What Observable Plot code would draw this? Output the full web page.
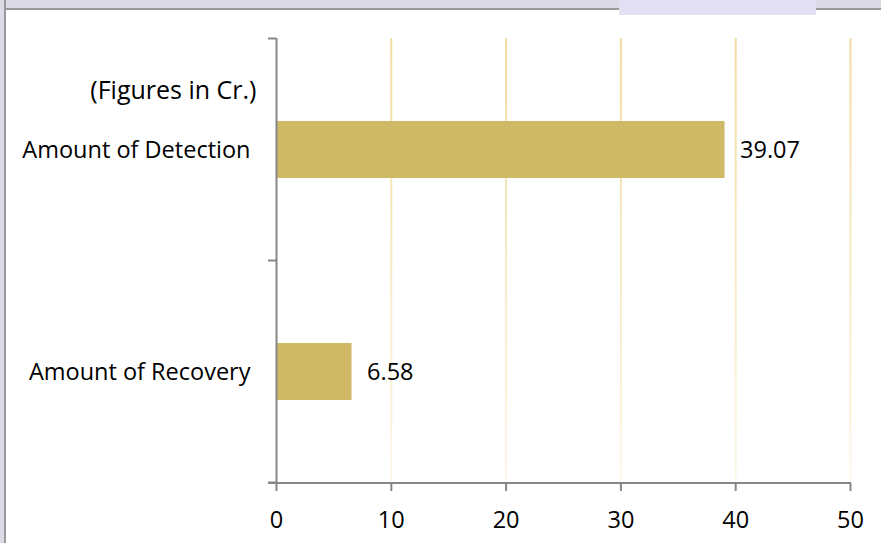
<!DOCTYPE html>
<html>
<head>
<meta charset="utf-8">
<script src="https://cdn.jsdelivr.net/npm/d3@7"></script>
<script src="https://cdn.jsdelivr.net/npm/@observablehq/plot@0.6"></script>
<style>
  html, body { margin: 0; padding: 0; background: #ffffff; }
  #wrap { position: relative; width: 881px; height: 543px; overflow: hidden; }
  .edge-top { position: absolute; left: 0; top: 0; width: 881px; height: 8px; background: #dcdae6; border-bottom: 2px solid #9a9a9a; }
  .edge-left { position: absolute; left: 0; top: 0; width: 4px; height: 543px; background: #dcdae6; border-right: 2px solid #9a9a9a; }
  .tab { position: absolute; left: 619px; top: 0; width: 197px; height: 15px; background: #e3e0f3; }
  #chart { position: absolute; left: 0; top: 0; }
</style>
</head>
<body>
<div id="wrap">
  <div id="chart"></div>
  <div class="edge-top"></div>
  <div class="edge-left"></div>
  <div class="tab"></div>
</div>
<script>
const categories = ["Amount of Detection", "Amount of Recovery"];
const values = [39.07, 6.58];
const xTicks = [0, 10, 20, 30, 40, 50];
const note = "(Figures in Cr.)";

const data = categories.map((c, i) => ({category: c, value: values[i]}));
const FONT = "'Open Sans', Lato, sans-serif";
const AXIS = "#878787";

// gradient defs for gridlines
function gridDefs(index, scales, values, dims) {
  const top = dims.marginTop, bottom = dims.height - dims.marginBottom;
  const defs = d3.create("svg:defs");
  const g = defs.append("linearGradient")
    .attr("id", "gridGrad")
    .attr("gradientUnits", "userSpaceOnUse")
    .attr("x1", 0).attr("x2", 0).attr("y1", top).attr("y2", bottom);
  g.append("stop").attr("offset", "0%").attr("stop-color", "#f1dc9f");
  g.append("stop").attr("offset", "100%").attr("stop-color", "#fdf7e8");
  return defs.node();
}

// Excel-style category axis: ticks on band boundaries + bottom axis line
function categoryAxis(index, scales, values, dims) {
  const y = scales.y, x = scales.x;
  const step = y.step();
  const bounds = categories.map(c => y(c) + y.bandwidth() / 2 - step / 2);
  bounds.push(y(categories[categories.length - 1]) + y.bandwidth() / 2 + step / 2);
  const x0 = x(0);
  const g = d3.create("svg:g").attr("stroke", AXIS).attr("stroke-width", 2);
  for (const b of bounds) {
    g.append("line").attr("x1", x0 - 8).attr("x2", x0).attr("y1", b).attr("y2", b);
  }
  const yb = dims.height - dims.marginBottom;
  g.append("line").attr("x1", x0 - 8).attr("x2", x(xTicks[xTicks.length - 1]) + 1).attr("y1", yb).attr("y2", yb);
  return g.node();
}

const chart = Plot.plot({
  width: 881,
  height: 543,
  marginLeft: 276,
  marginRight: 31,
  marginTop: 38,
  marginBottom: 60,
  style: {background: "transparent", fontFamily: FONT, color: "#000"},
  x: {domain: [0, 50], label: null},
  y: {domain: categories, paddingInner: 0.744, paddingOuter: 0.372, label: null},
  marks: [
    gridDefs,
    Plot.ruleX(xTicks.slice(1), {stroke: "url(#gridGrad)", strokeWidth: 2}),
    Plot.barX(data, {x: "value", y: "category", fill: "#cfb966"}),
    Plot.text(data, {x: "value", y: "category", text: d => d.value.toFixed(2), textAnchor: "start", dx: 15, fontSize: 23.5, fill: "#000"}),
    Plot.ruleX([0], {stroke: AXIS, strokeWidth: 2}),
    categoryAxis,
    Plot.axisX(xTicks, {tickSize: 8, tickPadding: 20, stroke: AXIS, strokeWidth: 2, fontSize: 23.5, fill: "#000", label: null}),
    Plot.axisY({tickSize: 0, tickPadding: 26, fontSize: 23.5, fill: "#000", label: null}),
    Plot.text([note], {frameAnchor: "top-left", textAnchor: "end", lineAnchor: "middle", dx: -20, dy: 52, fontSize: 25, fill: "#000"})
  ]
});
document.getElementById("chart").appendChild(chart);
</script>
</body>
</html>
